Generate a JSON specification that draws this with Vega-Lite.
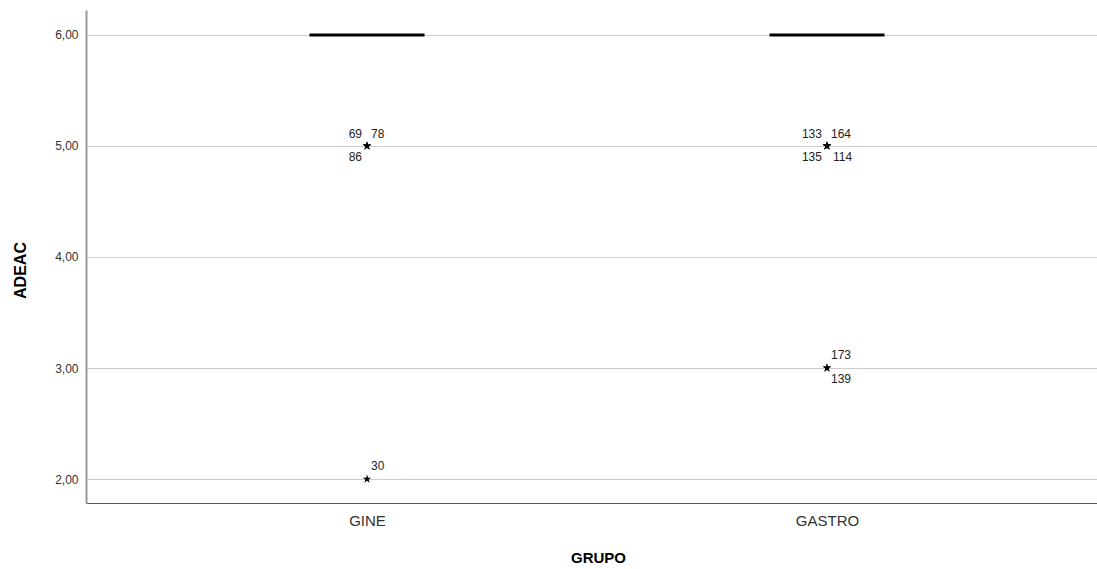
{
  "$schema": "https://vega.github.io/schema/vega-lite/v6.json",
  "width": 1022,
  "height": 493,
  "autosize": {"type": "none"},
  "padding": {"left": 86, "top": 10, "right": -11, "bottom": 66},
  "background": "white",
  "config": {
    "font": "Liberation Sans",
    "view": {"stroke": null},
    "axis": {"labelFont": "Liberation Sans", "titleFont": "Liberation Sans"}
  },
  "datasets": {
    "medianas": [
      {"GRUPO": "GINE", "ADEAC": 6},
      {"GRUPO": "GASTRO", "ADEAC": 6}
    ],
    "extremos": [
      {"GRUPO": "GINE", "ADEAC": 5, "caso": 69},
      {"GRUPO": "GINE", "ADEAC": 5, "caso": 78},
      {"GRUPO": "GINE", "ADEAC": 5, "caso": 86},
      {"GRUPO": "GINE", "ADEAC": 2, "caso": 30},
      {"GRUPO": "GASTRO", "ADEAC": 5, "caso": 133},
      {"GRUPO": "GASTRO", "ADEAC": 5, "caso": 164},
      {"GRUPO": "GASTRO", "ADEAC": 5, "caso": 135},
      {"GRUPO": "GASTRO", "ADEAC": 5, "caso": 114},
      {"GRUPO": "GASTRO", "ADEAC": 3, "caso": 173},
      {"GRUPO": "GASTRO", "ADEAC": 3, "caso": 139}
    ]
  },
  "encoding": {
    "x": {
      "field": "GRUPO",
      "type": "nominal",
      "sort": ["GINE", "GASTRO"],
      "scale": {"type": "point", "padding": 0.611},
      "axis": {
        "title": "GRUPO",
        "titleFontSize": 15,
        "titleFontWeight": "bold",
        "titleColor": "#000000",
        "titleBaseline": "middle",
        "titleY": 54,
        "titleX": 512,
        "labelFontSize": 15,
        "labelColor": "#333333",
        "labelAngle": 0,
        "labelPadding": 10,
        "ticks": false,
        "domainColor": "#555555",
        "domainWidth": 1,
        "grid": false
      }
    },
    "y": {
      "field": "ADEAC",
      "type": "quantitative",
      "scale": {"domain": [1.784, 6.225], "nice": false, "zero": false},
      "axis": {
        "title": "ADEAC",
        "titleFontSize": 16,
        "titleFontWeight": "bold",
        "titleColor": "#000000",
        "titleX": -66,
        "titleY": 260,
        "titleAngle": -90,
        "titleBaseline": "middle",
        "values": [2, 3, 4, 5, 6],
        "labelExpr": "replace(format(datum.value, '.2f'), '.', ',')",
        "labelFontSize": 12,
        "labelColor": "#333333",
        "labelPadding": 8,
        "ticks": false,
        "domainColor": "#999999",
        "domainWidth": 2,
        "grid": true,
        "gridColor": "#cccccc",
        "gridWidth": 1
      }
    }
  },
  "layer": [
    {
      "data": {"name": "medianas"},
      "mark": {"type": "tick", "size": 115, "thickness": 3, "color": "#000000", "opacity": 1, "orient": "horizontal"}
    },
    {
      "data": {"name": "extremos"},
      "mark": {
        "type": "point",
        "shape": "M0,-1L0.22,-0.31L0.95,-0.31L0.36,0.12L0.59,0.81L0,0.38L-0.59,0.81L-0.36,0.12L-0.95,-0.31L-0.22,-0.31Z",
        "filled": true,
        "color": "#000000",
        "opacity": 1,
        "size": 80
      }
    },
    {
      "data": {"name": "extremos"},
      "transform": [{"filter": "indexof([69, 133], datum.caso) >= 0"}],
      "mark": {"type": "text", "align": "right", "baseline": "middle", "dx": -5, "dy": -12, "fontSize": 12, "color": "#222222"},
      "encoding": {"text": {"field": "caso", "type": "nominal"}}
    },
    {
      "data": {"name": "extremos"},
      "transform": [{"filter": "indexof([78, 164], datum.caso) >= 0"}],
      "mark": {"type": "text", "align": "left", "baseline": "middle", "dx": 4, "dy": -12, "fontSize": 12, "color": "#222222"},
      "encoding": {"text": {"field": "caso", "type": "nominal"}}
    },
    {
      "data": {"name": "extremos"},
      "transform": [{"filter": "indexof([86, 135], datum.caso) >= 0"}],
      "mark": {"type": "text", "align": "right", "baseline": "middle", "dx": -5, "dy": 11, "fontSize": 12, "color": "#222222"},
      "encoding": {"text": {"field": "caso", "type": "nominal"}}
    },
    {
      "data": {"name": "extremos"},
      "transform": [{"filter": "indexof([114], datum.caso) >= 0"}],
      "mark": {"type": "text", "align": "left", "baseline": "middle", "dx": 6, "dy": 11, "fontSize": 12, "color": "#222222"},
      "encoding": {"text": {"field": "caso", "type": "nominal"}}
    },
    {
      "data": {"name": "extremos"},
      "transform": [{"filter": "indexof([173, 30], datum.caso) >= 0"}],
      "mark": {"type": "text", "align": "left", "baseline": "middle", "dx": 4, "dy": -13, "fontSize": 12, "color": "#222222"},
      "encoding": {"text": {"field": "caso", "type": "nominal"}}
    },
    {
      "data": {"name": "extremos"},
      "transform": [{"filter": "indexof([139], datum.caso) >= 0"}],
      "mark": {"type": "text", "align": "left", "baseline": "middle", "dx": 4, "dy": 11, "fontSize": 12, "color": "#222222"},
      "encoding": {"text": {"field": "caso", "type": "nominal"}}
    }
  ]
}
